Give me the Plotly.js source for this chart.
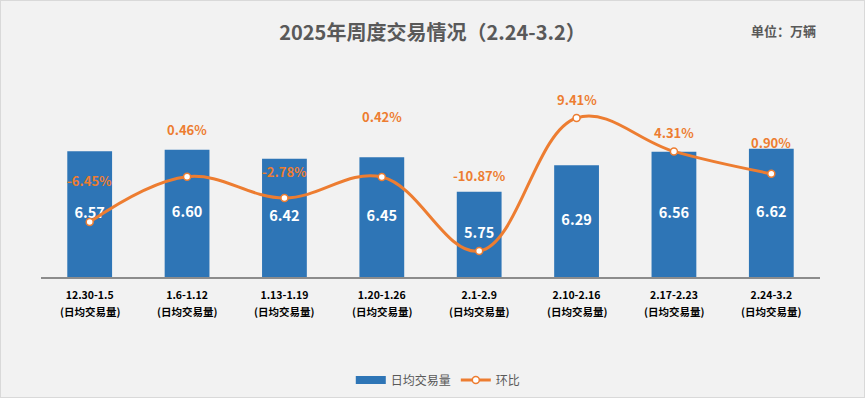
<!DOCTYPE html>
<html>
<head>
<meta charset="utf-8">
<script src="https://cdn.plot.ly/plotly-3.0.1.min.js"></script>
<style>
  html, body { margin: 0; padding: 0; background: #F2F2F2; }
  #wrap { position: relative; width: 865px; height: 398px; }
  #chart { width: 865px; height: 398px; }
  #frame { position: absolute; left: 0; top: 0; width: 865px; height: 398px; box-sizing: border-box; border: 1px solid #D9D9D9; pointer-events: none; }
</style>
</head>
<body>
<div id="wrap"><div id="chart"></div><div id="frame"></div></div>
<script>
// ---- data ----
const categories = ['12.30-1.5', '1.6-1.12', '1.13-1.19', '1.20-1.26', '2.1-2.9', '2.10-2.16', '2.17-2.23', '2.24-3.2'];
const subLabel = '(日均交易量)';
const volume = [6.57, 6.60, 6.42, 6.45, 5.75, 6.29, 6.56, 6.62];
const mom = [-6.45, 0.46, -2.78, 0.42, -10.87, 9.41, 4.31, 0.90];
const seriesNames = ['日均交易量', '环比'];
const titleText = '2025年周度交易情况（2.24-3.2）';
const unitText = '单位：万辆';

// label offsets (pixels above the point), styling only
const momLabelShift = [42, 47, 26, 60, 76, 18, 19, 31];

const FONT = '"Noto Sans CJK SC", "Noto Sans", sans-serif';
const BLUE = '#2E75B6';
const ORANGE = '#ED7D31';
const GREY = '#595959';
const Y_RANGE = [4.03, 8.03];
const Y2_RANGE = [-14.83, 15.35];

const barTrace = {
  type: 'bar',
  name: seriesNames[0],
  x: categories,
  y: volume,
  marker: { color: BLUE },
  showlegend: false,
  hoverinfo: 'skip'
};

// value labels centred in the visible part of each bar
const barLabelTrace = {
  type: 'scatter',
  mode: 'text',
  x: categories,
  y: volume.map(v => (v + Y_RANGE[0]) / 2),
  text: volume.map(v => '<b>' + v.toFixed(2) + '</b>'),
  textposition: 'middle center',
  textfont: { color: '#FFFFFF', size: 14.5, family: FONT },
  showlegend: false,
  hoverinfo: 'skip'
};

// legend swatch for the bar series (wide rectangle like the reference)
const barLegendTrace = {
  type: 'scatter',
  mode: 'lines',
  name: seriesNames[0],
  x: [null], y: [null],
  line: { color: BLUE, width: 8 },
  hoverinfo: 'skip'
};

const lineTrace = {
  type: 'scatter',
  mode: 'lines+markers',
  name: seriesNames[1],
  x: categories,
  y: mom,
  yaxis: 'y2',
  line: { color: ORANGE, width: 3, shape: 'spline', smoothing: 1.1 },
  marker: { color: '#FFFFFF', size: 7, line: { color: ORANGE, width: 1.5 } },
  hoverinfo: 'skip'
};

const annotations = [];
categories.forEach((c, i) => {
  annotations.push({
    x: c, y: mom[i], xref: 'x', yref: 'y2',
    text: '<b>' + mom[i].toFixed(2) + '%</b>',
    showarrow: false, xanchor: 'center', yanchor: 'middle',
    yshift: momLabelShift[i],
    font: { color: ORANGE, size: 13, family: FONT }
  });
  annotations.push({
    x: c, y: 0, xref: 'x', yref: 'paper',
    text: '<b>' + subLabel + '</b>',
    showarrow: false, xanchor: 'center', yanchor: 'middle',
    yshift: -34,
    font: { color: '#000000', size: 10.5, family: FONT }
  });
});
annotations.push({
  xref: 'paper', yref: 'paper', x: 0.997, y: 1.247,
  xanchor: 'right', yanchor: 'middle', showarrow: false,
  text: '<b>' + unitText + '</b>',
  font: { color: GREY, size: 13, family: FONT }
});

const layout = {
  width: 865, height: 398,
  paper_bgcolor: '#F2F2F2', plot_bgcolor: '#F2F2F2',
  margin: { l: 41, r: 45, t: 79, b: 121, autoexpand: false },
  font: { family: FONT, color: GREY },
  title: {
    text: '<b>' + titleText + '</b>',
    x: 0.5, xref: 'container', xanchor: 'center',
    y: 1 - 33 / 398, yref: 'container', yanchor: 'middle',
    font: { size: 20, color: GREY, family: FONT },
    automargin: false
  },
  bargap: 0.54,
  xaxis: {
    type: 'category',
    showline: true, linecolor: '#8C8C8C', linewidth: 1.5,
    showgrid: false, zeroline: false, ticks: '',
    tickvals: categories,
    ticktext: categories.map(c => '<b>' + c + '</b>'),
    tickfont: { size: 10.5, color: '#000000', family: FONT },
    ticklabelstandoff: 8,
    automargin: false,
    fixedrange: true
  },
  yaxis: { range: Y_RANGE, visible: false, showgrid: false, zeroline: false, fixedrange: true },
  yaxis2: { range: Y2_RANGE, overlaying: 'y', side: 'right', visible: false, showgrid: false, zeroline: false, fixedrange: true },
  showlegend: true,
  legend: {
    orientation: 'h', x: 0.51, xanchor: 'center', y: -0.52, yanchor: 'middle',
    font: { size: 12, color: GREY, family: FONT },
    bgcolor: 'rgba(0,0,0,0)', itemwidth: 30, tracegroupgap: 0
  },
  annotations: annotations
};

Plotly.newPlot('chart', [barTrace, barLabelTrace, barLegendTrace, lineTrace], layout, { displayModeBar: false, staticPlot: true });
</script>
</body>
</html>
